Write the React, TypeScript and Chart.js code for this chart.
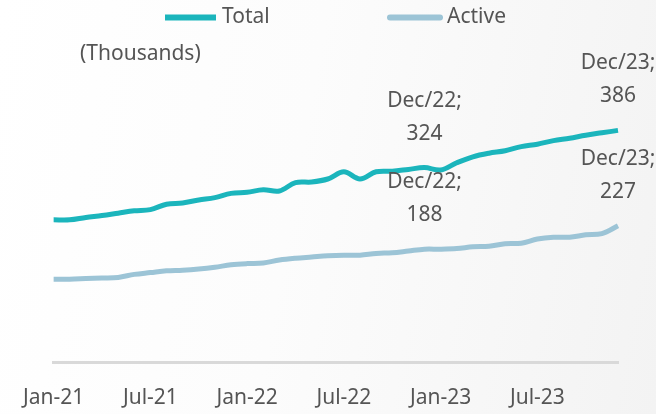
import React, { useEffect, useRef } from "react";
import { Chart, registerables } from "chart.js";

Chart.register(...registerables);

const months: string[] = [
  "Jan-21", "Feb-21", "Mar-21", "Apr-21", "May-21", "Jun-21", "Jul-21", "Aug-21", "Sep-21", "Oct-21", "Nov-21", "Dec-21",
  "Jan-22", "Feb-22", "Mar-22", "Apr-22", "May-22", "Jun-22", "Jul-22", "Aug-22", "Sep-22", "Oct-22", "Nov-22", "Dec-22",
  "Jan-23", "Feb-23", "Mar-23", "Apr-23", "May-23", "Jun-23", "Jul-23", "Aug-23", "Sep-23", "Oct-23", "Nov-23", "Dec-23",
];

const totalValues: number[] = [
  237, 237, 241, 244, 248, 252, 254, 263, 265, 270, 274, 281,
  283, 287, 285, 299, 300, 305, 317, 305, 317, 318, 321, 324,
  320, 332, 342, 348, 352, 359, 363, 369, 373, 378, 382, 386,
];

const activeValues: number[] = [
  138, 138, 139, 140, 141, 146, 149, 152, 153, 155, 158, 162,
  164, 165, 170, 173, 175, 177, 178, 178, 181, 182, 185, 188,
  188, 189, 192, 193, 197, 198, 205, 208, 208, 212, 214, 227,
];

const seriesNames: string[] = ["Total", "Active"];
const seriesColors: string[] = ["#1BB5BC", "#9CC4D6"];
const shownTicks: string[] = ["Jan-21", "Jul-21", "Jan-22", "Jul-22", "Jan-23", "Jul-23"];
const labelledPoints: { index: number; text: string }[] = [
  { index: 23, text: "Dec/22;" },
  { index: 35, text: "Dec/23;" },
];
const unitNote = "(Thousands)";

const FONT = "'Noto Sans', sans-serif";
const TEXT = "#555555";

const annotPlugin = {
  id: "annot",
  afterDatasetsDraw(chart: any) {
    const ctx = chart.ctx;
    ctx.save();
    ctx.font = `21px ${FONT}`;
    ctx.fillStyle = TEXT;
    ctx.textAlign = "center";
    ctx.textBaseline = "middle";
    chart.data.datasets.forEach((ds: any, di: number) => {
      const meta = chart.getDatasetMeta(di);
      labelledPoints.forEach((lp) => {
        const el = meta.data[lp.index];
        if (!el) return;
        ctx.fillText(lp.text, el.x, el.y - 67);
        ctx.fillText(String(ds.data[lp.index]), el.x, el.y - 34);
      });
    });
    ctx.textAlign = "left";
    ctx.fillText(unitNote, 80, 54);

    // legend
    const legendX = [165, 387];
    chart.data.datasets.forEach((ds: any, di: number) => {
      const x = legendX[di];
      ctx.strokeStyle = ds.borderColor;
      ctx.lineWidth = 6;
      ctx.lineCap = di === 0 ? "butt" : "round";
      ctx.beginPath();
      ctx.moveTo(x + (di === 0 ? 0 : 3), 17.5);
      ctx.lineTo(x + (di === 0 ? 51 : 53), 17.5);
      ctx.stroke();
      ctx.fillStyle = TEXT;
      ctx.textAlign = "left";
      ctx.fillText(ds.label, x + (di === 0 ? 57 : 60), 17);
    });
    ctx.restore();
  },
};

export default function App() {
  const ref = useRef<HTMLCanvasElement | null>(null);
  useEffect(() => {
    if (!ref.current) return;
    const chart = new Chart(ref.current, {
      type: "line",
      data: {
        labels: months,
        datasets: [
          {
            label: seriesNames[0],
            data: totalValues,
            borderColor: seriesColors[0],
            backgroundColor: seriesColors[0],
            borderWidth: 5,
            pointRadius: 0,
            tension: 0.35,
          },
          {
            label: seriesNames[1],
            data: activeValues,
            borderColor: seriesColors[1],
            backgroundColor: seriesColors[1],
            borderWidth: 5,
            pointRadius: 0,
            tension: 0.35,
          },
        ],
      },
      options: {
        animation: false,
        responsive: false,
        layout: { padding: { left: 49, right: 38, top: 62, bottom: 0 } },
        plugins: {
          legend: { display: false },
          tooltip: { enabled: false },
        },
        scales: {
          x: {
            grid: { display: false, drawTicks: false },
            border: { display: true, color: "#d9d9d9", width: 3 },
            afterFit: (scale: any) => {
              scale.height = 52;
            },
            ticks: {
              autoSkip: false,
              maxRotation: 0,
              color: TEXT,
              font: { size: 21, family: FONT },
              padding: 23,
              callback: function (_v: any, i: number) {
                const l = months[i];
                return shownTicks.includes(l) ? l : "";
              },
            },
          },
          y: {
            display: false,
            min: 0,
            max: 500,
          },
        },
      },
      plugins: [annotPlugin],
    });
    return () => chart.destroy();
  }, []);
  return (
    <div
      style={{
        position: "fixed",
        left: 0,
        top: 0,
        width: 656,
        height: 414,
        background: "linear-gradient(100deg, #ffffff 0%, #fcfcfc 45%, #f3f3f3 100%)",
      }}
    >
      <canvas ref={ref} width={656} height={414} style={{ display: "block" }} />
    </div>
  );
}
